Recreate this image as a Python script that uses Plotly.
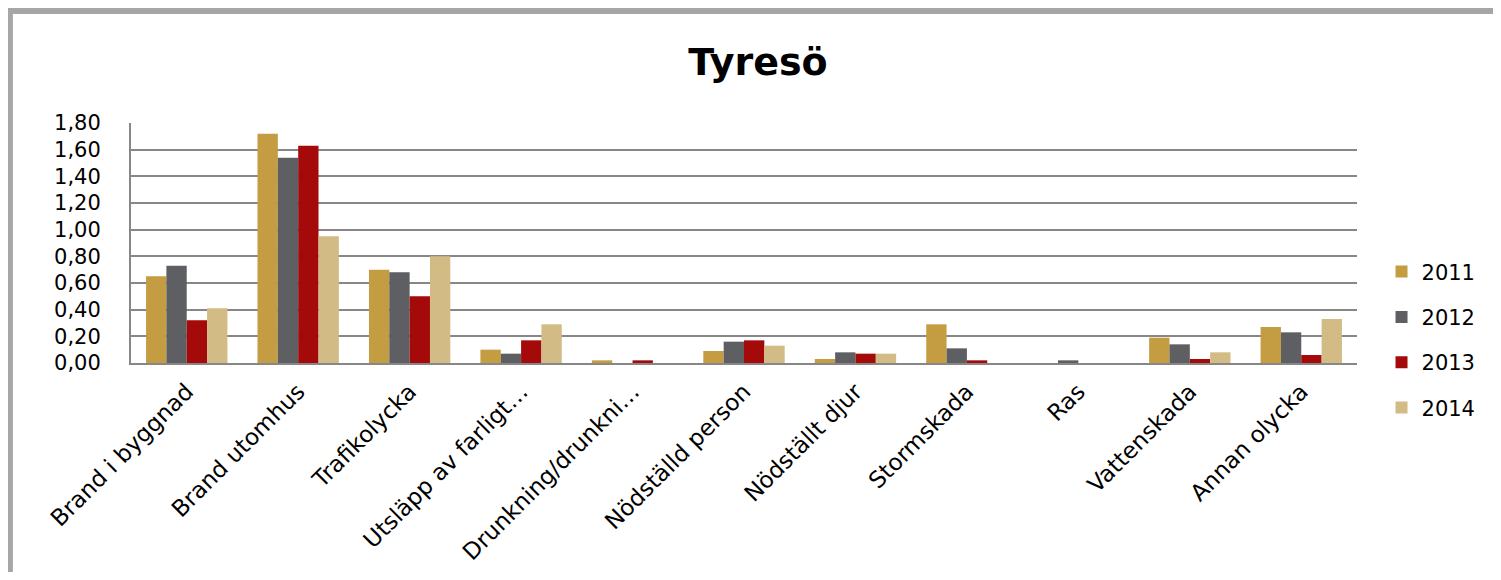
import plotly.graph_objects as go

categories = [
    'Brand i byggnad', 'Brand utomhus', 'Trafikolycka', 'Utsläpp av farligt…',
    'Drunkning/drunkni…', 'Nödställd person', 'Nödställt djur', 'Stormskada',
    'Ras', 'Vattenskada', 'Annan olycka'
]
years = ['2011', '2012', '2013', '2014']
values_2011 = [0.65, 1.72, 0.70, 0.10, 0.02, 0.09, 0.03, 0.29, 0.00, 0.19, 0.27]
values_2012 = [0.73, 1.54, 0.68, 0.07, 0.00, 0.16, 0.08, 0.11, 0.02, 0.14, 0.23]
values_2013 = [0.32, 1.63, 0.50, 0.17, 0.02, 0.17, 0.07, 0.02, 0.00, 0.03, 0.06]
values_2014 = [0.41, 0.95, 0.80, 0.29, 0.00, 0.13, 0.07, 0.00, 0.00, 0.08, 0.33]
y_ticks = [0, 0.2, 0.4, 0.6, 0.8, 1.0, 1.2, 1.4, 1.6, 1.8]
y_tick_labels = ['0,00', '0,20', '0,40', '0,60', '0,80', '1,00', '1,20', '1,40', '1,60', '1,80']

COLORS = ['#C49C42', '#5E5F63', '#A50A0A', '#D2BB85']
FONT = '"DejaVu Sans", Verdana, sans-serif'
GRID = '#878787'

# page body has an 8px margin, so the figure is a bit smaller than the window
W, H = 1485, 564
L, T, PW, PH = 123, 115, 1230, 240

fig = go.Figure()
for year, vals, color in zip(years, [values_2011, values_2012, values_2013, values_2014], COLORS):
    fig.add_trace(go.Bar(
        x=categories, y=vals, name=year, legendgroup=year,
        marker=dict(color=color, line_width=0),
    ))

fig.update_layout(
    width=W, height=H,
    margin=dict(l=L, r=W - L - PW, t=T, b=H - T - PH),
    paper_bgcolor='white', plot_bgcolor='white',
    font=dict(family=FONT, color='#000000', size=22),
    barmode='group', bargap=0.27, bargroupgap=0,
    title=dict(text='<b>Tyresö</b>', x=750 / W, xref='container', xanchor='center',
               y=1 - 54 / H, yref='container', yanchor='middle',
               font=dict(size=38, family=FONT, color='#000000')),
    legend=dict(x=1.02, xanchor='left', y=0.096, yanchor='middle',
                font=dict(size=21), tracegroupgap=15, itemwidth=30,
                bgcolor='rgba(0,0,0,0)'),
    showlegend=True,
    shapes=[dict(type='rect', xref='paper', yref='paper',
                 x0=(1.5 - L) / PW, x1=(W + 20 - L) / PW,
                 y0=-(H + 20 - T - PH) / PH, y1=(T + PH - 3) / PH,
                 line=dict(color='#A6A6A6', width=6), layer='below')],
)
fig.update_xaxes(
    tickangle=-45, tickfont=dict(size=23), showline=True, linecolor=GRID,
    linewidth=2, ticks='', showgrid=False, ticklabelstandoff=4,
    automargin=False,
)
fig.update_yaxes(
    range=[0, 1.8], tickvals=y_ticks, ticktext=y_tick_labels,
    showgrid=True, gridcolor=GRID, gridwidth=2, showline=True,
    linecolor=GRID, linewidth=2, zeroline=False, ticks='', ticklen=0,
    tickfont=dict(size=21), ticklabelstandoff=24, automargin=False,
)

fig.write_html('out.html')
